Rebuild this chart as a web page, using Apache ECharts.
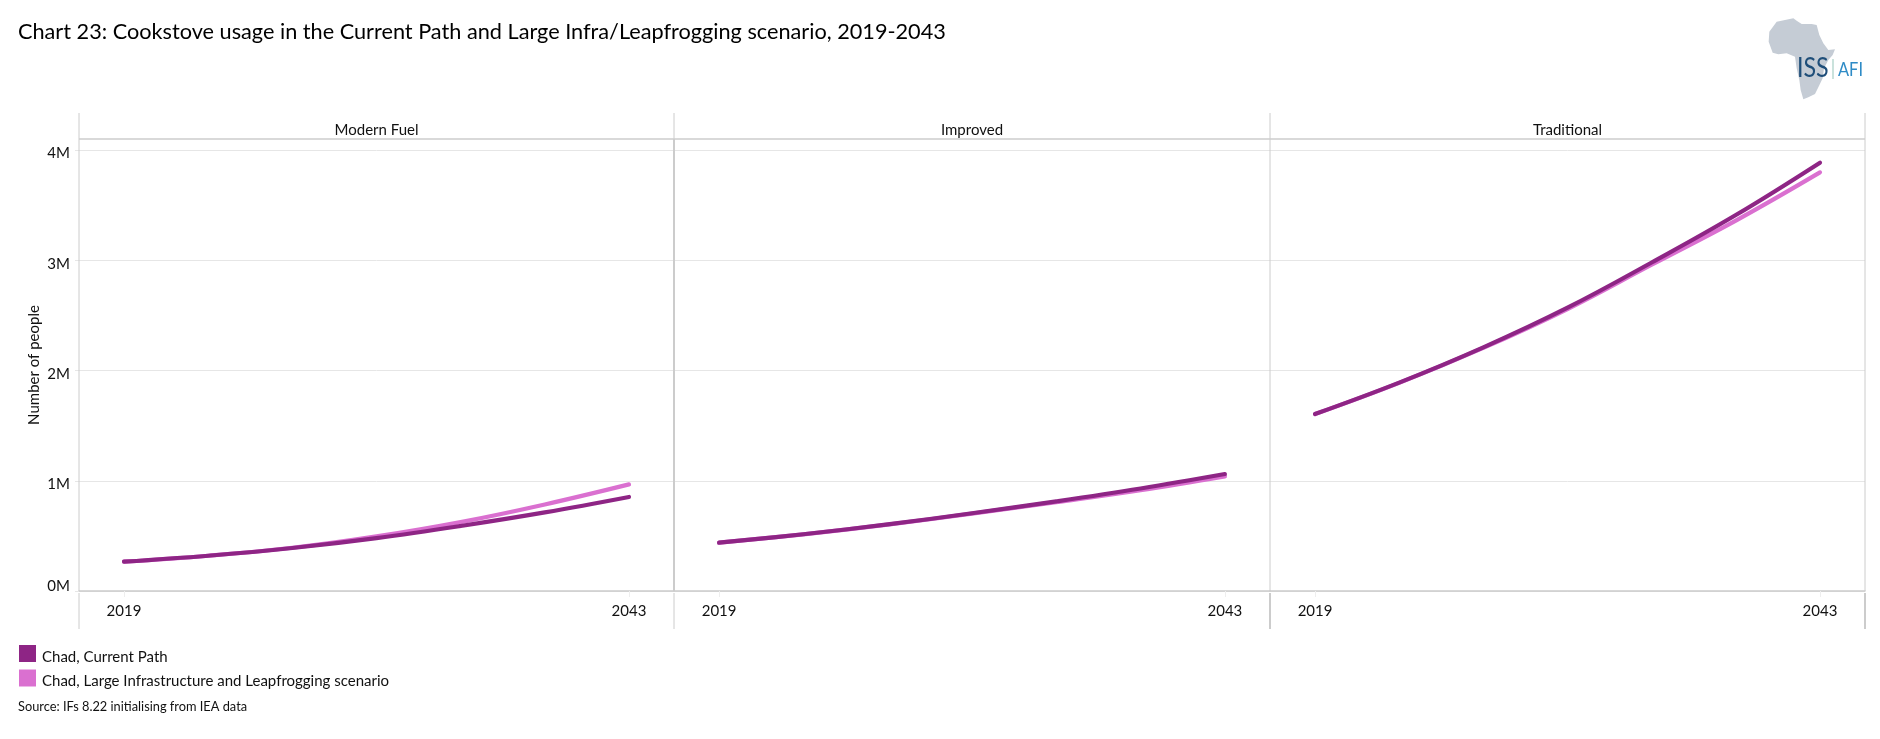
<!DOCTYPE html>
<html><head><meta charset="utf-8">
<style>html,body{margin:0;padding:0;background:#fff}#c{width:1880px;height:739px}</style>
<script src="https://cdn.jsdelivr.net/npm/echarts@6/dist/echarts.min.js"></script>
</head><body><div id="c"></div>
<script>
const years = [2019, 2023, 2027, 2031, 2035, 2039, 2043];
const tickYears = [2019, 2043];
const yTicks = [0, 1000000, 2000000, 3000000, 4000000];
const panels = ['Modern Fuel', 'Improved', 'Traditional'];
const nameCP = 'Chad, Current Path';
const nameLI = 'Chad, Large Infrastructure and Leapfrogging scenario';
const cpModern = [266000, 320000, 390000, 480000, 590000, 713000, 853000];
const liModern = [266000, 320000, 392000, 495000, 625000, 785000, 967000];
const cpImproved = [438000, 515000, 604000, 705000, 813000, 930000, 1061000];
const liImproved = [438000, 514000, 602000, 702000, 806000, 915000, 1040000];
const cpTraditional = [1605000, 1890000, 2210000, 2570000, 2980000, 3410000, 3885000];
const liTraditional = [1605000, 1888000, 2205000, 2558000, 2960000, 3360000, 3797000];
const cpAll = [cpModern, cpImproved, cpTraditional];
const liAll = [liModern, liImproved, liTraditional];

const FONT = 'Lato';
const C_CP = '#8e2585', C_LI = '#da70d0', FRAME = '#cccccc', GRID = '#e6e6e6';
const edges = [79, 674, 1270, 1865];
const TOP = 139, BOTTOM = 591, STRIP = 113, FOOT = 629;
const pad = 2.14;

const grids = [], xAxes = [], yAxes = [], series = [], titles = [];
panels.forEach((p, i) => {
  grids.push({left: edges[i], top: TOP, width: edges[i + 1] - edges[i], height: BOTTOM - TOP, containLabel: false});
  xAxes.push({
    type: 'value', gridIndex: i, min: years[0] - pad, max: years[years.length - 1] + pad,
    splitLine: {show: false},
    axisLine: {show: true, lineStyle: {color: FRAME, width: 1.5}},
    axisTick: {show: true, customValues: tickYears, length: 6, lineStyle: {color: '#eeeeee'}},
    axisLabel: {customValues: tickYears, formatter: v => String(v), color: '#111', fontFamily: FONT, fontSize: 15, margin: 13}
  });
  yAxes.push({
    type: 'value', gridIndex: i, min: 0, max: 4100000, interval: 1000000,
    name: i === 0 ? 'Number of people' : '', nameLocation: 'middle', nameGap: 37,
    nameTextStyle: {color: '#111', fontFamily: FONT, fontSize: 15},
    splitLine: {show: true, lineStyle: {color: GRID, width: 1}},
    axisLine: {show: false},
    axisTick: {show: i === 0, customValues: yTicks, length: 4, lineStyle: {color: GRID}},
    axisLabel: {
      show: i === 0, margin: 9,
      customValues: yTicks,
      formatter: v => v === 0 ? '{z|0M}' : '{a|' + (v / 1000000) + 'M}',
      rich: {
        a: {color: '#111', fontFamily: FONT, fontSize: 15, padding: [7, 0, 0, 0]},
        z: {color: '#111', fontFamily: FONT, fontSize: 15, padding: [0, 0, 10, 0]}
      }
    }
  });
  titles.push({
    text: p, left: (edges[i] + edges[i + 1]) / 2, top: 123, textAlign: 'center', padding: 0,
    textStyle: {color: '#111', fontFamily: FONT, fontSize: 15, fontWeight: 'normal'}
  });
  const mk = (name, vals, color, z) => ({
    name, type: 'line', xAxisIndex: i, yAxisIndex: i, z,
    data: years.map((y, k) => [y, vals[k]]),
    smooth: 0.4, symbol: 'none', showSymbol: false, clip: false,
    itemStyle: {color},
    lineStyle: {color, width: 4.2, cap: 'round', join: 'round'}
  });
  series.push(mk(nameLI, liAll[i], C_LI, 3));
  series.push(mk(nameCP, cpAll[i], C_CP, 4));
});

titles.push({text: 'Chart 23: Cookstove usage in the Current Path and Large Infra/Leapfrogging scenario, 2019-2043',
  left: 18, top: 21, padding: 0, textStyle: {color: '#000', fontFamily: FONT, fontSize: 21.7, fontWeight: 'normal'}});
titles.push({text: 'Source: IFs 8.22 initialising from IEA data',
  left: 18, top: 700, padding: 0, textStyle: {color: '#111', fontFamily: FONT, fontSize: 12.8, fontWeight: 'normal'}});

const line = (x1, y1, x2, y2, w) => ({type: 'line', silent: true, z: 1,
  shape: {x1, y1, x2, y2}, style: {stroke: FRAME, lineWidth: w || 1}});
const frame = [];
edges.forEach((x, i) => {
  const w = (i === 1) ? 2 : 1;
  frame.push(line(x, STRIP, x, TOP, 1));
  frame.push(line(x, TOP, x, BOTTOM, w));
  frame.push(line(x, BOTTOM + 2, x, FOOT, (i >= 2) ? 2 : 1));
});
frame.push(line(edges[0], TOP, edges[3], TOP, 1.5));

const africa = [[290,65],[315,60],[340,55],[350,62],[365,72],[395,72],[410,75],[418,105],[430,130],[445,150],[465,148],[458,165],[445,180],[432,205],[428,235],[415,262],[405,282],[385,292],[370,298],[362,270],[358,240],[350,205],[345,170],[320,160],[295,163],[278,158],[266,125],[268,95]]
  .map(p => [1680 + p[0] / 3, p[1] / 3]);
const logo = [
  {type: 'polygon', silent: true, shape: {points: africa}, style: {fill: '#c5ccd5'}},
  {type: 'text', silent: true, x: 1797, y: 55, scaleX: 0.86, z: 5, style: {text: 'ISS', fill: '#1f4e79', font: '27px ' + FONT}},
  {type: 'line', silent: true, shape: {x1: 1833, y1: 59, x2: 1833, y2: 79}, style: {stroke: '#b8d8d0', lineWidth: 1.5}},
  {type: 'text', silent: true, x: 1838, y: 60, scaleX: 0.82, z: 5, style: {text: 'AFI', fill: '#2e8bc6', font: '20px ' + FONT}}
];

const chart = echarts.init(document.getElementById('c'), null, {renderer: 'canvas'});
chart.setOption({
  animation: false, backgroundColor: '#fff',
  title: titles, grid: grids, xAxis: xAxes, yAxis: yAxes, series,
  legend: {
    left: 14, top: 640, orient: 'vertical', itemWidth: 17, itemHeight: 17, itemGap: 5,
    data: [nameCP, nameLI].map(name => ({name, icon: 'rect'})),
    selectedMode: false,
    formatter: name => '{t|' + name + '}',
    textStyle: {rich: {t: {color: '#111', fontFamily: FONT, fontSize: 15, padding: [7, 0, 0, 1]}}},
    itemStyle: {borderWidth: 0}
  },
  graphic: {elements: frame.concat(logo)}
});
</script></body></html>
